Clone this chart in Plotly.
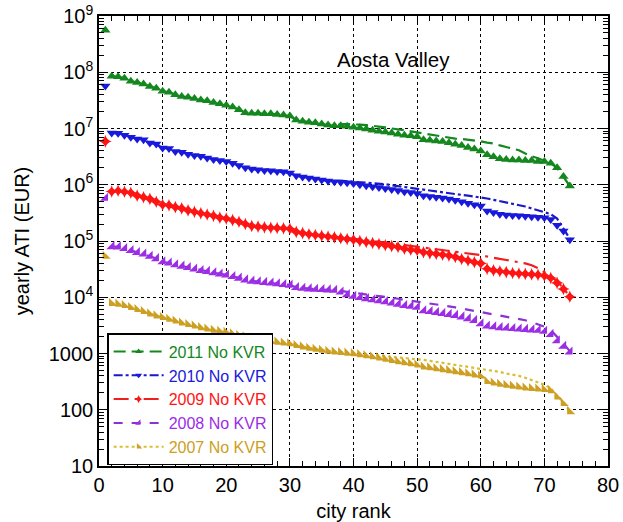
import plotly.graph_objects as go

# City rank 1..74
ranks = list(range(1, 75))

# Yearly ATI per city (EUR), ranked
ati_2011 = [5.6e8, 8.5e7, 8.3e7, 7.8e7, 6.9e7, 6.6e7, 6.2e7, 5.6e7, 5.2e7, 4.6e7,
            4.4e7, 4.0e7, 3.7e7, 3.6e7, 3.4e7, 3.2e7, 3.1e7, 2.9e7, 2.75e7, 2.6e7,
            2.4e7, 2.15e7, 1.9e7, 1.86e7, 1.86e7, 1.82e7, 1.82e7, 1.78e7, 1.74e7, 1.66e7,
            1.41e7, 1.35e7, 1.29e7, 1.26e7, 1.2e7, 1.15e7, 1.12e7, 1.12e7, 1.1e7, 1.05e7,
            1.02e7, 9.8e6, 9.3e6, 8.9e6, 8.7e6, 8.3e6, 7.9e6, 7.6e6, 7.4e6, 7.1e6,
            6.3e6, 6.2e6, 6.0e6, 5.9e6, 5.6e6, 5.25e6, 5.0e6, 4.6e6, 4.3e6, 4.0e6,
            3.4e6, 3.16e6, 2.9e6, 2.8e6, 2.75e6, 2.75e6, 2.7e6, 2.7e6, 2.6e6, 2.6e6,
            2.4e6, 2.0e6, 1.4e6, 9.5e5]
no_kvr_2011 = [None] + ati_2011[1:37] + [
            1.2e7, 1.2e7, 1.17e7, 1.17e7, 1.15e7, 1.12e7, 1.1e7, 1.05e7, 1.0e7, 9.5e6,
            9.3e6, 8.9e6, 8.5e6, 8.1e6, 7.8e6, 7.4e6, 7.1e6, 6.9e6, 6.6e6, 6.5e6,
            6.3e6, 6.2e6, 5.9e6, 5.6e6, 5.4e6, 5.0e6, 4.7e6, 4.4e6, 4.1e6, 3.6e6,
            3.2e6, 2.95e6, 2.7e6, 2.4e6, 2.0e6, 1.4e6, 9.5e5]

ati_2010 = [5.7e7, 8.3e6, 8.2e6, 7.6e6, 7.0e6, 6.5e6, 6.3e6, 5.5e6, 5.3e6, 4.5e6,
            4.4e6, 3.9e6, 3.8e6, 3.5e6, 3.3e6, 3.2e6, 3.0e6, 2.8e6, 2.7e6, 2.6e6,
            2.4e6, 2.2e6, 2.0e6, 1.9e6, 1.85e6, 1.8e6, 1.78e6, 1.72e6, 1.7e6, 1.62e6,
            1.45e6, 1.38e6, 1.32e6, 1.27e6, 1.22e6, 1.17e6, 1.13e6, 1.11e6, 1.08e6, 1.05e6,
            1.0e6, 9.6e5, 9.2e5, 8.9e5, 8.6e5, 8.2e5, 7.9e5, 7.5e5, 7.3e5, 7.0e5,
            6.4e5, 6.2e5, 6.0e5, 5.8e5, 5.6e5, 5.3e5, 5.0e5, 4.7e5, 4.4e5, 4.2e5,
            3.4e5, 3.2e5, 3.0e5, 2.9e5, 2.85e5, 2.8e5, 2.75e5, 2.7e5, 2.65e5, 2.6e5,
            2.4e5, 1.9e5, 1.5e5, 1.05e5]
no_kvr_2010 = [None] + ati_2010[1:37] + [
            1.18e6, 1.16e6, 1.14e6, 1.12e6, 1.1e6, 1.08e6, 1.05e6, 1.02e6, 9.8e5, 9.5e5,
            9.2e5, 8.9e5, 8.6e5, 8.2e5, 7.9e5, 7.6e5, 7.3e5, 7.0e5, 6.8e5, 6.6e5,
            6.4e5, 6.2e5, 6.0e5, 5.7e5, 5.4e5, 5.1e5, 4.9e5, 4.6e5, 4.4e5, 4.1e5,
            3.8e5, 3.5e5, 3.3e5, 3.0e5, 2.5e5, 1.7e5, 1.1e5]

ati_2009 = [5.9e6, 7.6e5, 7.8e5, 7.5e5, 7.2e5, 6.4e5, 6.0e5, 5.6e5, 5.0e5, 4.4e5,
            4.3e5, 4.0e5, 3.8e5, 3.5e5, 3.3e5, 3.1e5, 2.95e5, 2.8e5, 2.6e5, 2.5e5,
            2.35e5, 2.2e5, 2.0e5, 1.85e5, 1.8e5, 1.75e5, 1.72e5, 1.7e5, 1.68e5, 1.65e5,
            1.45e5, 1.38e5, 1.32e5, 1.28e5, 1.24e5, 1.2e5, 1.16e5, 1.12e5, 1.08e5, 1.05e5,
            1.0e5, 9.6e4, 9.2e4, 8.8e4, 8.4e4, 8.1e4, 7.8e4, 7.3e4, 7.0e4, 6.8e4,
            6.3e4, 6.1e4, 5.9e4, 5.7e4, 5.5e4, 5.2e4, 4.8e4, 4.5e4, 4.2e4, 4.0e4,
            3.2e4, 3.0e4, 2.9e4, 2.8e4, 2.7e4, 2.65e4, 2.6e4, 2.55e4, 2.5e4, 2.4e4,
            2.2e4, 1.8e4, 1.4e4, 1.02e4]
no_kvr_2009 = [None] + ati_2009[1:37] + [
            1.15e5, 1.13e5, 1.1e5, 1.08e5, 1.05e5, 1.02e5, 9.8e4, 9.4e4, 9.1e4, 8.8e4,
            8.5e4, 8.2e4, 7.9e4, 7.6e4, 7.3e4, 7.0e4, 6.8e4, 6.6e4, 6.4e4, 6.2e4,
            6.0e4, 5.8e4, 5.6e4, 5.3e4, 5.0e4, 4.8e4, 4.6e4, 4.4e4, 4.2e4, 4.0e4,
            3.7e4, 3.3e4, 2.8e4, 2.4e4, 1.9e4, 1.45e4, 1.02e4]

ati_2008 = [5.8e5, 8.0e4, 7.9e4, 7.4e4, 6.8e4, 6.3e4, 5.9e4, 5.4e4, 4.9e4, 4.3e4,
            4.1e4, 3.8e4, 3.6e4, 3.4e4, 3.2e4, 3.0e4, 2.9e4, 2.75e4, 2.6e4, 2.5e4,
            2.35e4, 2.2e4, 2.05e4, 1.95e4, 1.9e4, 1.85e4, 1.8e4, 1.75e4, 1.7e4, 1.65e4,
            1.5e4, 1.45e4, 1.42e4, 1.4e4, 1.38e4, 1.36e4, 1.34e4, 1.25e4, 1.12e4, 1.05e4,
            1.0e4, 9.5e3, 9.1e3, 8.7e3, 8.4e3, 8.0e3, 7.6e3, 7.2e3, 7.0e3, 6.7e3,
            5.8e3, 5.6e3, 5.4e3, 5.2e3, 5.0e3, 4.8e3, 4.5e3, 4.2e3, 3.9e3, 3.4e3,
            3.1e3, 3.0e3, 2.9e3, 2.85e3, 2.8e3, 2.75e3, 2.7e3, 2.65e3, 2.6e3, 2.5e3,
            2.2e3, 1.7e3, 1.35e3, 1.07e3]
no_kvr_2008 = [None] + ati_2008[1:37] + [
            1.3e4, 1.25e4, 1.2e4, 1.15e4, 1.12e4, 1.08e4, 1.05e4, 1.02e4, 9.8e3, 9.4e3,
            9.0e3, 8.7e3, 8.4e3, 8.1e3, 7.8e3, 7.5e3, 7.2e3, 6.9e3, 6.6e3, 6.3e3,
            6.0e3, 5.7e3, 5.4e3, 5.2e3, 5.0e3, 4.8e3, 4.6e3, 4.4e3, 4.2e3, 3.9e3,
            3.6e3, 3.3e3, 3.0e3, 2.6e3, 2.0e3, 1.5e3, 1.1e3]

ati_2007 = [5.4e4, 7.8e3, 7.6e3, 7.2e3, 6.6e3, 6.1e3, 5.6e3, 5.1e3, 4.7e3, 4.4e3,
            4.1e3, 3.8e3, 3.5e3, 3.3e3, 3.1e3, 2.9e3, 2.75e3, 2.6e3, 2.5e3, 2.4e3,
            2.25e3, 2.1e3, 2.0e3, 1.9e3, 1.8e3, 1.72e3, 1.65e3, 1.6e3, 1.55e3, 1.5e3,
            1.4e3, 1.32e3, 1.25e3, 1.2e3, 1.15e3, 1.1e3, 1.07e3, 1.05e3, 1.02e3, 1.0e3,
            960, 920, 880, 840, 800, 760, 720, 690, 660, 630,
            580, 560, 540, 520, 500, 480, 460, 440, 420, 400,
            320, 300, 285, 275, 265, 255, 245, 240, 235, 230,
            220, 170, 130, 93]
no_kvr_2007 = [None] + ati_2007[1:40] + [
            980, 960, 940, 920, 900, 880, 860, 840, 820, 800,
            770, 740, 710, 680, 660, 640, 610, 590, 560, 540,
            510, 490, 470, 440, 420, 400, 370, 340, 310, 280,
            240, 180, 135, 95]

series = [
    ("2011 No KVR", ati_2011, no_kvr_2011, "rgb(20,135,30)", "rgb(20,135,30)", "triangle-up", "12px,6px"),
    ("2010 No KVR", ati_2010, no_kvr_2010, "rgb(25,25,220)", "rgb(25,25,200)", "triangle-down", "dashdot"),
    ("2009 No KVR", ati_2009, no_kvr_2009, "rgb(255,20,20)", "rgb(240,30,30)", "star-diamond", "longdashdot"),
    ("2008 No KVR", ati_2008, no_kvr_2008, "rgb(155,45,230)", "rgb(140,50,210)", "triangle-se", "dash"),
    ("2007 No KVR", ati_2007, no_kvr_2007, "rgb(205,160,35)", "rgb(215,190,50)", "triangle-sw", "dot"),
]

fig = go.Figure()

for name, marks, line_vals, mcolor, lcolor, symbol, dash in series:
    fig.add_trace(go.Scatter(
        x=ranks, y=line_vals, mode="lines", showlegend=False,
        line=dict(color=lcolor, width=2.2, dash=dash), hoverinfo="skip"))
    fig.add_trace(go.Scatter(
        x=ranks, y=marks, mode="markers", showlegend=False,
        marker=dict(symbol=symbol, size=9, color=mcolor, line=dict(width=0))))

# legend entries: line style with a marker in the middle, label in the series colour
for name, marks, line_vals, mcolor, lcolor, symbol, dash in series:
    fig.add_trace(go.Scatter(
        x=[None], y=[None], mode="lines+markers",
        name=f"<span style='color:{mcolor}'>{name}</span>",
        line=dict(color=lcolor, width=2, dash=dash),
        marker=dict(symbol=symbol, size=6, color=mcolor)))

y_ticks = [10, 100, 1000, 1e4, 1e5, 1e6, 1e7, 1e8, 1e9]
y_tick_text = ["10", "100", "1000", "10<sup>4</sup>", "10<sup>5</sup>", "10<sup>6</sup>",
               "10<sup>7</sup>", "10<sup>8</sup>", "10<sup>9</sup>"]
x_ticks = [0, 10, 20, 30, 40, 50, 60, 70, 80]

font_family = "Liberation Sans, Arial, Helvetica, sans-serif"

fig.update_layout(
    width=623, height=522,
    margin=dict(l=99, r=15, t=16, b=56),
    paper_bgcolor="white", plot_bgcolor="white",
    font=dict(family=font_family, size=20, color="black"),
    legend=dict(
        x=0.016, y=0.002, xanchor="left", yanchor="bottom",
        bgcolor="white", bordercolor="black", borderwidth=1.5,
        font=dict(size=16), itemwidth=50, tracegroupgap=0,
        traceorder="normal"),
    annotations=[dict(
        text="Aosta Valley", x=46.3, y=8.23, xref="x", yref="y",
        showarrow=False, font=dict(size=20.5, color="black"))],
)

fig.update_xaxes(
    range=[0, 80], tickvals=x_ticks, ticks="inside", ticklen=8, tickwidth=1.2,
    tickcolor="black", mirror="allticks", showline=True, linecolor="black", linewidth=1.5,
    showgrid=True, gridcolor="black", griddash="dot", gridwidth=1,
    zeroline=False, tickfont=dict(size=20), automargin=False,
    minor=dict(dtick=2, ticks="inside", ticklen=5, tickcolor="black", showgrid=False),
    title=dict(text="city rank", font=dict(size=20), standoff=10),
)
fig.update_yaxes(
    type="log", range=[1, 9], tickvals=y_ticks, ticktext=y_tick_text,
    ticks="inside", ticklen=8, tickwidth=1.2, tickcolor="black",
    mirror="allticks", showline=True, linecolor="black", linewidth=1.5,
    showgrid=True, gridcolor="black", griddash="dot", gridwidth=1,
    zeroline=False, tickfont=dict(size=20), automargin=False,
    minor=dict(dtick="D1", ticks="inside", ticklen=5, tickcolor="black", showgrid=False),
    title=dict(text="yearly ATI (EUR)", font=dict(size=20), standoff=14),
)

fig.write_html("out.html")
